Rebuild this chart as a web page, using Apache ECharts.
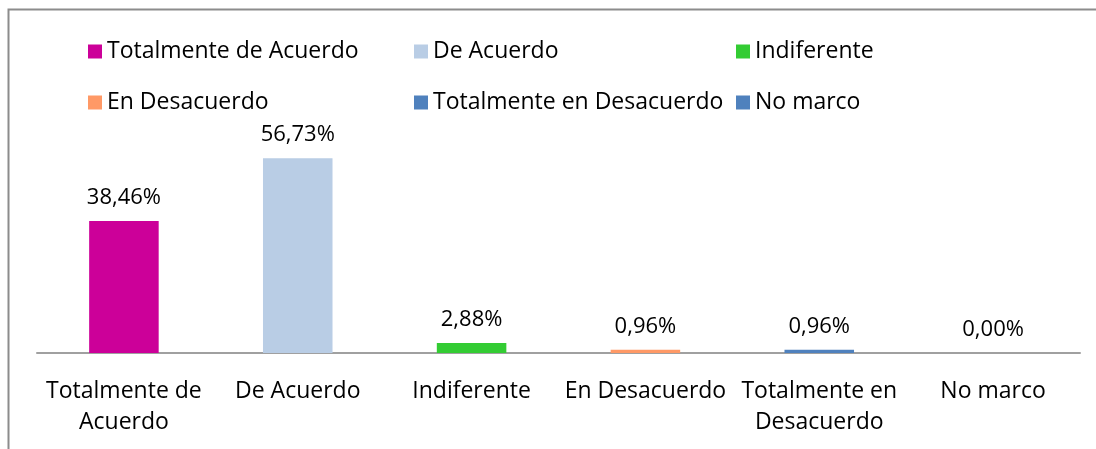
<!DOCTYPE html>
<html>
<head>
<meta charset="utf-8">
<script src="https://cdn.jsdelivr.net/npm/echarts@6/dist/echarts.min.js"></script>
<style>
html,body{margin:0;padding:0;background:#fff;}
#c{width:1096px;height:449px;}
</style>
</head>
<body>
<div id="c"></div>
<script>
const categories = ['Totalmente de Acuerdo','De Acuerdo','Indiferente','En Desacuerdo','Totalmente en Desacuerdo','No marco'];
const axisLabels = ['Totalmente de\nAcuerdo','De Acuerdo','Indiferente','En Desacuerdo','Totalmente en\nDesacuerdo','No marco'];
const values = [38.46, 56.73, 2.88, 0.96, 0.96, 0.00];
const colors = ['#CC0099','#B9CDE5','#33CC33','#FF9966','#4F81BD','#4F81BD'];

const FONT = '"Open Sans", "Noto Sans", sans-serif';
const FS = 23;
const chart = echarts.init(document.getElementById('c'));

const series = categories.map((name, i) => ({
  name: name,
  type: 'bar',
  stack: 'all',
  barWidth: '40%',
  itemStyle: { color: colors[i] },
  label: {
    show: true,
    position: 'top',
    distance: 12,
    color: '#000',
    fontSize: 22,
    fontFamily: FONT,
    formatter: p => p.value.toFixed(2).replace('.', ',') + '%'
  },
  data: values.map((v, j) => j === i ? v : '-')
}));

const legendBase = {
  orient: 'vertical',
  itemWidth: 14,
  itemHeight: 14,
  itemGap: 28,
  icon: 'rect',
  selectedMode: false,
  textStyle: { fontSize: FS, fontFamily: FONT, color: '#000', lineHeight: 20, padding: [0,0,0,0] }
};

chart.setOption({
  animation: false,
  graphic: [{
    type: 'rect',
    shape: { x: 8.5, y: 9.5, width: 1200, height: 600 },
    style: { fill: 'none', stroke: '#8c8c8c', lineWidth: 2 },
    silent: true
  }],
  legend: [
    Object.assign({}, legendBase, { left: 83, top: 35, data: [categories[0], categories[3]] }),
    Object.assign({}, legendBase, { left: 409, top: 35, data: [categories[1], categories[4]] }),
    Object.assign({}, legendBase, { left: 731, top: 35, data: [categories[2], categories[5]] })
  ],
  grid: { left: 37, right: 16, top: 147, bottom: 96 },
  xAxis: {
    type: 'category',
    data: axisLabels,
    axisLine: { show: true, lineStyle: { color: '#a0a0a0', width: 2 } },
    axisTick: { show: false },
    axisLabel: { color: '#000', fontSize: FS, fontFamily: FONT, lineHeight: 31, margin: 23, interval: 0 }
  },
  yAxis: {
    type: 'value',
    min: 0,
    max: 60,
    show: false,
    splitLine: { show: false }
  },
  series: series
});
</script>
</body>
</html>
